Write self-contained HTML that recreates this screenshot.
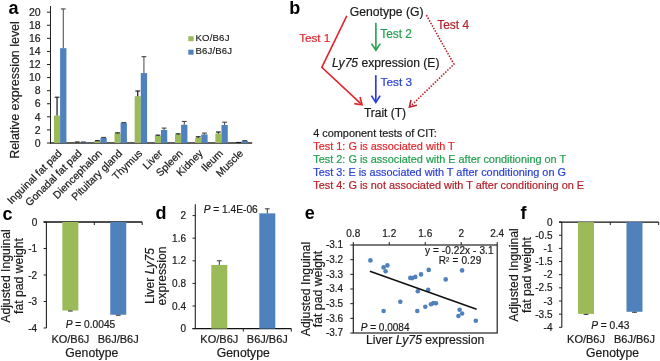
<!DOCTYPE html>
<html><head><meta charset="utf-8"><style>
html,body{margin:0;padding:0;background:#fff;width:660px;height:361px;overflow:hidden}
svg{display:block;filter:blur(0.3px);font-family:"Liberation Sans",sans-serif}
</style></head><body>
<svg width="660" height="361" viewBox="0 0 660 361">
<rect width="660" height="361" fill="#fff"/>
<text transform="translate(8.4,14.3) " font-size="18" font-weight="bold" fill="#000">a</text>
<line x1="50.50" y1="6.00" x2="50.50" y2="143.50" stroke="#222222" stroke-width="1" />
<line x1="47.00" y1="143.00" x2="50.50" y2="143.00" stroke="#222222" stroke-width="1" />
<text x="40.60" y="146.70" font-size="10.5" text-anchor="end" fill="#1a1a1a" stroke="#1a1a1a" stroke-width="0.2" >0</text>
<line x1="47.00" y1="129.92" x2="50.50" y2="129.92" stroke="#222222" stroke-width="1" />
<text x="40.60" y="133.62" font-size="10.5" text-anchor="end" fill="#1a1a1a" stroke="#1a1a1a" stroke-width="0.2" >2</text>
<line x1="47.00" y1="116.84" x2="50.50" y2="116.84" stroke="#222222" stroke-width="1" />
<text x="40.60" y="120.54" font-size="10.5" text-anchor="end" fill="#1a1a1a" stroke="#1a1a1a" stroke-width="0.2" >4</text>
<line x1="47.00" y1="103.76" x2="50.50" y2="103.76" stroke="#222222" stroke-width="1" />
<text x="40.60" y="107.46" font-size="10.5" text-anchor="end" fill="#1a1a1a" stroke="#1a1a1a" stroke-width="0.2" >6</text>
<line x1="47.00" y1="90.68" x2="50.50" y2="90.68" stroke="#222222" stroke-width="1" />
<text x="40.60" y="94.38" font-size="10.5" text-anchor="end" fill="#1a1a1a" stroke="#1a1a1a" stroke-width="0.2" >8</text>
<line x1="47.00" y1="77.60" x2="50.50" y2="77.60" stroke="#222222" stroke-width="1" />
<text x="40.60" y="81.30" font-size="10.5" text-anchor="end" fill="#1a1a1a" stroke="#1a1a1a" stroke-width="0.2" >10</text>
<line x1="47.00" y1="64.52" x2="50.50" y2="64.52" stroke="#222222" stroke-width="1" />
<text x="40.60" y="68.22" font-size="10.5" text-anchor="end" fill="#1a1a1a" stroke="#1a1a1a" stroke-width="0.2" >12</text>
<line x1="47.00" y1="51.44" x2="50.50" y2="51.44" stroke="#222222" stroke-width="1" />
<text x="40.60" y="55.14" font-size="10.5" text-anchor="end" fill="#1a1a1a" stroke="#1a1a1a" stroke-width="0.2" >14</text>
<line x1="47.00" y1="38.36" x2="50.50" y2="38.36" stroke="#222222" stroke-width="1" />
<text x="40.60" y="42.06" font-size="10.5" text-anchor="end" fill="#1a1a1a" stroke="#1a1a1a" stroke-width="0.2" >16</text>
<line x1="47.00" y1="25.28" x2="50.50" y2="25.28" stroke="#222222" stroke-width="1" />
<text x="40.60" y="28.98" font-size="10.5" text-anchor="end" fill="#1a1a1a" stroke="#1a1a1a" stroke-width="0.2" >18</text>
<line x1="47.00" y1="12.20" x2="50.50" y2="12.20" stroke="#222222" stroke-width="1" />
<text x="40.60" y="15.90" font-size="10.5" text-anchor="end" fill="#1a1a1a" stroke="#1a1a1a" stroke-width="0.2" >20</text>
<line x1="50.00" y1="143.00" x2="252.20" y2="143.00" stroke="#2a2a2a" stroke-width="1.5" />
<text transform="translate(19.30,90.00) rotate(-90)" font-size="12.45" text-anchor="middle" fill="#1a1a1a" stroke="#1a1a1a" stroke-width="0.2">Relative expression level</text>
<rect x="54.00" y="115.53" width="6.10" height="27.47" fill="#9bbb59"/>
<rect x="60.10" y="48.17" width="6.30" height="94.83" fill="#4f81bd"/>
<line x1="57.05" y1="115.53" x2="57.05" y2="97.22" stroke="#111" stroke-width="1.2" />
<line x1="54.65" y1="97.22" x2="59.45" y2="97.22" stroke="#111" stroke-width="1.1" />
<line x1="63.25" y1="48.17" x2="63.25" y2="8.93" stroke="#444" stroke-width="1.0" />
<line x1="60.85" y1="8.93" x2="65.65" y2="8.93" stroke="#444" stroke-width="1.1" />
<text transform="translate(62.30,154.00) rotate(-45)" font-size="10.5" text-anchor="end" fill="#1a1a1a" stroke="#1a1a1a" stroke-width="0.2">Inguinal fat pad</text>
<rect x="74.17" y="142.35" width="6.10" height="0.65" fill="#9bbb59"/>
<rect x="80.27" y="142.35" width="6.30" height="0.65" fill="#4f81bd"/>
<line x1="77.22" y1="142.35" x2="77.22" y2="142.02" stroke="#111" stroke-width="1.2" />
<line x1="74.82" y1="142.02" x2="79.62" y2="142.02" stroke="#111" stroke-width="1.1" />
<line x1="83.42" y1="142.35" x2="83.42" y2="142.02" stroke="#444" stroke-width="1.0" />
<line x1="81.02" y1="142.02" x2="85.82" y2="142.02" stroke="#444" stroke-width="1.1" />
<text transform="translate(82.47,154.00) rotate(-45)" font-size="10.5" text-anchor="end" fill="#1a1a1a" stroke="#1a1a1a" stroke-width="0.2">Gonadal fat pad</text>
<rect x="94.34" y="141.04" width="6.10" height="1.96" fill="#9bbb59"/>
<rect x="100.44" y="137.90" width="6.30" height="5.10" fill="#4f81bd"/>
<line x1="97.39" y1="141.04" x2="97.39" y2="140.71" stroke="#111" stroke-width="1.2" />
<line x1="94.99" y1="140.71" x2="99.79" y2="140.71" stroke="#111" stroke-width="1.1" />
<line x1="103.59" y1="137.90" x2="103.59" y2="137.44" stroke="#444" stroke-width="1.0" />
<line x1="101.19" y1="137.44" x2="105.99" y2="137.44" stroke="#444" stroke-width="1.1" />
<text transform="translate(102.64,154.00) rotate(-45)" font-size="10.5" text-anchor="end" fill="#1a1a1a" stroke="#1a1a1a" stroke-width="0.2">Diencephalon</text>
<rect x="114.51" y="133.19" width="6.10" height="9.81" fill="#9bbb59"/>
<rect x="120.61" y="122.92" width="6.30" height="20.08" fill="#4f81bd"/>
<line x1="117.56" y1="133.19" x2="117.56" y2="132.86" stroke="#111" stroke-width="1.2" />
<line x1="115.16" y1="132.86" x2="119.96" y2="132.86" stroke="#111" stroke-width="1.1" />
<line x1="123.76" y1="122.92" x2="123.76" y2="122.60" stroke="#444" stroke-width="1.0" />
<line x1="121.36" y1="122.60" x2="126.16" y2="122.60" stroke="#444" stroke-width="1.1" />
<text transform="translate(122.81,154.00) rotate(-45)" font-size="10.5" text-anchor="end" fill="#1a1a1a" stroke="#1a1a1a" stroke-width="0.2">Pituitary gland</text>
<rect x="134.68" y="96.17" width="6.10" height="46.83" fill="#9bbb59"/>
<rect x="140.78" y="73.09" width="6.30" height="69.91" fill="#4f81bd"/>
<line x1="137.73" y1="96.17" x2="137.73" y2="91.01" stroke="#111" stroke-width="1.2" />
<line x1="135.33" y1="91.01" x2="140.13" y2="91.01" stroke="#111" stroke-width="1.1" />
<line x1="143.93" y1="73.09" x2="143.93" y2="56.67" stroke="#444" stroke-width="1.0" />
<line x1="141.53" y1="56.67" x2="146.33" y2="56.67" stroke="#444" stroke-width="1.1" />
<text transform="translate(142.98,154.00) rotate(-45)" font-size="10.5" text-anchor="end" fill="#1a1a1a" stroke="#1a1a1a" stroke-width="0.2">Thymus</text>
<rect x="154.85" y="135.87" width="6.10" height="7.13" fill="#9bbb59"/>
<rect x="160.95" y="129.99" width="6.30" height="13.01" fill="#4f81bd"/>
<line x1="157.90" y1="135.87" x2="157.90" y2="135.15" stroke="#111" stroke-width="1.2" />
<line x1="155.50" y1="135.15" x2="160.30" y2="135.15" stroke="#111" stroke-width="1.1" />
<line x1="164.10" y1="129.99" x2="164.10" y2="128.09" stroke="#444" stroke-width="1.0" />
<line x1="161.70" y1="128.09" x2="166.50" y2="128.09" stroke="#444" stroke-width="1.1" />
<text transform="translate(163.15,154.00) rotate(-45)" font-size="10.5" text-anchor="end" fill="#1a1a1a" stroke="#1a1a1a" stroke-width="0.2">Liver</text>
<rect x="175.02" y="134.43" width="6.10" height="8.57" fill="#9bbb59"/>
<rect x="181.12" y="124.75" width="6.30" height="18.25" fill="#4f81bd"/>
<line x1="178.07" y1="134.43" x2="178.07" y2="133.84" stroke="#111" stroke-width="1.2" />
<line x1="175.67" y1="133.84" x2="180.47" y2="133.84" stroke="#111" stroke-width="1.1" />
<line x1="184.27" y1="124.75" x2="184.27" y2="121.48" stroke="#444" stroke-width="1.0" />
<line x1="181.87" y1="121.48" x2="186.67" y2="121.48" stroke="#444" stroke-width="1.1" />
<text transform="translate(183.32,154.00) rotate(-45)" font-size="10.5" text-anchor="end" fill="#1a1a1a" stroke="#1a1a1a" stroke-width="0.2">Spleen</text>
<rect x="195.19" y="137.70" width="6.10" height="5.30" fill="#9bbb59"/>
<rect x="201.29" y="134.43" width="6.30" height="8.57" fill="#4f81bd"/>
<line x1="198.24" y1="137.70" x2="198.24" y2="136.79" stroke="#111" stroke-width="1.2" />
<line x1="195.84" y1="136.79" x2="200.64" y2="136.79" stroke="#111" stroke-width="1.1" />
<line x1="204.44" y1="134.43" x2="204.44" y2="133.12" stroke="#444" stroke-width="1.0" />
<line x1="202.04" y1="133.12" x2="206.84" y2="133.12" stroke="#444" stroke-width="1.1" />
<text transform="translate(203.49,154.00) rotate(-45)" font-size="10.5" text-anchor="end" fill="#1a1a1a" stroke="#1a1a1a" stroke-width="0.2">Kidney</text>
<rect x="215.36" y="133.52" width="6.10" height="9.48" fill="#9bbb59"/>
<rect x="221.46" y="125.02" width="6.30" height="17.98" fill="#4f81bd"/>
<line x1="218.41" y1="133.52" x2="218.41" y2="132.01" stroke="#111" stroke-width="1.2" />
<line x1="216.01" y1="132.01" x2="220.81" y2="132.01" stroke="#111" stroke-width="1.1" />
<line x1="224.61" y1="125.02" x2="224.61" y2="122.20" stroke="#444" stroke-width="1.0" />
<line x1="222.21" y1="122.20" x2="227.01" y2="122.20" stroke="#444" stroke-width="1.1" />
<text transform="translate(223.66,154.00) rotate(-45)" font-size="10.5" text-anchor="end" fill="#1a1a1a" stroke="#1a1a1a" stroke-width="0.2">Ileum</text>
<rect x="235.53" y="142.67" width="6.10" height="0.33" fill="#9bbb59"/>
<rect x="241.63" y="140.91" width="6.30" height="2.09" fill="#4f81bd"/>
<line x1="238.58" y1="142.67" x2="238.58" y2="142.48" stroke="#111" stroke-width="1.2" />
<line x1="236.18" y1="142.48" x2="240.98" y2="142.48" stroke="#111" stroke-width="1.1" />
<line x1="244.78" y1="140.91" x2="244.78" y2="140.65" stroke="#444" stroke-width="1.0" />
<line x1="242.38" y1="140.65" x2="247.18" y2="140.65" stroke="#444" stroke-width="1.1" />
<text transform="translate(243.83,154.00) rotate(-45)" font-size="10.5" text-anchor="end" fill="#1a1a1a" stroke="#1a1a1a" stroke-width="0.2">Muscle</text>
<rect x="188.30" y="36.20" width="5.30" height="5.00" fill="#9bbb59"/>
<text x="195.40" y="41.00" font-size="9.6" text-anchor="start" fill="#1a1a1a" stroke="#1a1a1a" stroke-width="0.15" letter-spacing="0.2">KO/B6J</text>
<rect x="188.30" y="49.70" width="5.30" height="5.00" fill="#4f81bd"/>
<text x="195.60" y="54.20" font-size="9.6" text-anchor="start" fill="#1a1a1a" stroke="#1a1a1a" stroke-width="0.15" letter-spacing="0.1">B6J/B6J</text>
<text transform="translate(289.3,14.2) " font-size="18" font-weight="bold" fill="#000">b</text>
<text x="349.80" y="15.60" font-size="12.2" text-anchor="start" fill="#1a1a1a" stroke="#1a1a1a" stroke-width="0.2" >Genotype (G)</text>
<polyline points="346.8,15.9 321.8,67.3 361.6,104.3" fill="none" stroke="#e3262d" stroke-width="1.6"/>
<polyline points="354.3,103.6 362.1,104.7 360.0,97.0" fill="none" stroke="#e3262d" stroke-width="1.6"/>
<text x="299.20" y="41.70" font-size="11.7" text-anchor="start" fill="#e3262d" stroke="#e3262d" stroke-width="0.2" >Test 1</text>
<line x1="375.90" y1="22.70" x2="375.90" y2="50.00" stroke="#23a04f" stroke-width="1.6" />
<polyline points="371.5,43.6 375.9,50.3 380.3,43.6" fill="none" stroke="#23a04f" stroke-width="1.6"/>
<text x="380.20" y="37.90" font-size="11.9" text-anchor="start" fill="#23a04f" stroke="#23a04f" stroke-width="0.2" >Test 2</text>
<text x="332.10" y="66.50" font-size="12.1" text-anchor="start" fill="#1a1a1a" stroke="#1a1a1a" stroke-width="0.2" ><tspan font-style="italic">Ly75</tspan> expression (E)</text>
<line x1="375.80" y1="75.20" x2="375.80" y2="102.20" stroke="#2b3fd6" stroke-width="1.7" />
<polyline points="371.4,95.6 375.8,102.4 380.2,95.6" fill="none" stroke="#2b3fd6" stroke-width="1.7"/>
<text x="380.60" y="86.20" font-size="11.8" text-anchor="start" fill="#2b3fd6" stroke="#2b3fd6" stroke-width="0.2" >Test 3</text>
<text x="363.90" y="117.10" font-size="12.0" text-anchor="start" fill="#1a1a1a" stroke="#1a1a1a" stroke-width="0.2" >Trait (T)</text>
<polyline points="426.4,15.2 453.9,64.2 409.4,107.3" fill="none" stroke="#b5202a" stroke-width="1.6" stroke-dasharray="1.5 1.4"/>
<polyline points="410.9,99.8 409.4,107.0 416.9,105.2" fill="none" stroke="#b5202a" stroke-width="1.5"/>
<text x="437.30" y="28.50" font-size="11.9" text-anchor="start" fill="#b5202a" stroke="#b5202a" stroke-width="0.2" >Test 4</text>
<text x="313.20" y="136.50" font-size="10.9" text-anchor="start" fill="#1a1a1a" stroke="#1a1a1a" stroke-width="0.2" >4 component tests of CIT:</text>
<text x="313.30" y="149.60" font-size="10.9" text-anchor="start" fill="#e3262d" stroke="#e3262d" stroke-width="0.2" >Test 1: G is associated with T</text>
<text x="313.30" y="162.50" font-size="10.9" text-anchor="start" fill="#23a04f" stroke="#23a04f" stroke-width="0.2" >Test 2: G is associated with E after conditioning on T</text>
<text x="313.30" y="175.70" font-size="10.9" text-anchor="start" fill="#2b3fd6" stroke="#2b3fd6" stroke-width="0.2" >Test 3: E is associated with T after conditioning on G</text>
<text x="313.30" y="188.80" font-size="10.9" text-anchor="start" fill="#b5202a" stroke="#b5202a" stroke-width="0.2" >Test 4: G is not associated with T after conditioning on E</text>
<text transform="translate(2.5,219.6) " font-size="18" font-weight="bold" fill="#000">c</text>
<line x1="46.40" y1="222.00" x2="46.40" y2="328.10" stroke="#222222" stroke-width="1.1" />
<line x1="43.60" y1="222.00" x2="142.20" y2="222.00" stroke="#111" stroke-width="1.4" />
<line x1="43.60" y1="222.00" x2="46.40" y2="222.00" stroke="#222222" stroke-width="1" />
<text x="37.20" y="225.60" font-size="10" text-anchor="end" fill="#1a1a1a" stroke="#1a1a1a" stroke-width="0.2" >0</text>
<line x1="43.60" y1="248.50" x2="46.40" y2="248.50" stroke="#222222" stroke-width="1" />
<text x="37.20" y="252.10" font-size="10" text-anchor="end" fill="#1a1a1a" stroke="#1a1a1a" stroke-width="0.2" >-1</text>
<line x1="43.60" y1="275.00" x2="46.40" y2="275.00" stroke="#222222" stroke-width="1" />
<text x="37.20" y="278.60" font-size="10" text-anchor="end" fill="#1a1a1a" stroke="#1a1a1a" stroke-width="0.2" >-2</text>
<line x1="43.60" y1="301.50" x2="46.40" y2="301.50" stroke="#222222" stroke-width="1" />
<text x="37.20" y="305.10" font-size="10" text-anchor="end" fill="#1a1a1a" stroke="#1a1a1a" stroke-width="0.2" >-3</text>
<line x1="43.60" y1="328.00" x2="46.40" y2="328.00" stroke="#222222" stroke-width="1" />
<text x="37.20" y="331.60" font-size="10" text-anchor="end" fill="#1a1a1a" stroke="#1a1a1a" stroke-width="0.2" >-4</text>
<line x1="94.30" y1="222.00" x2="94.30" y2="225.00" stroke="#222222" stroke-width="1" />
<line x1="142.20" y1="222.00" x2="142.20" y2="225.00" stroke="#222222" stroke-width="1" />
<rect x="62.35" y="222.00" width="16.00" height="88.51" fill="#9bbb59"/>
<line x1="70.35" y1="310.51" x2="70.35" y2="311.04" stroke="#222" stroke-width="0.9" />
<line x1="67.95" y1="311.04" x2="72.75" y2="311.04" stroke="#222" stroke-width="0.9" />
<rect x="110.25" y="222.00" width="16.00" height="92.75" fill="#4f81bd"/>
<line x1="118.25" y1="314.75" x2="118.25" y2="315.28" stroke="#222" stroke-width="0.9" />
<line x1="115.85" y1="315.28" x2="120.65" y2="315.28" stroke="#222" stroke-width="0.9" />
<text x="65.70" y="327.90" font-size="10.2" text-anchor="start" fill="#1a1a1a" stroke="#1a1a1a" stroke-width="0.2" letter-spacing="0.0"><tspan font-style="italic">P</tspan> = 0.0045</text>
<text x="70.35" y="342.90" font-size="11" text-anchor="middle" fill="#1a1a1a" stroke="#1a1a1a" stroke-width="0.2" >KO/B6J</text>
<text x="118.25" y="342.90" font-size="11" text-anchor="middle" fill="#1a1a1a" stroke="#1a1a1a" stroke-width="0.2" >B6J/B6J</text>
<text x="91.80" y="356.60" font-size="12.2" text-anchor="middle" fill="#1a1a1a" stroke="#1a1a1a" stroke-width="0.2" >Genotype</text>
<text transform="translate(10.30,276.00) rotate(-90)" font-size="12.2" text-anchor="middle" fill="#1a1a1a" stroke="#1a1a1a" stroke-width="0.2">Adjusted Inguinal</text>
<text transform="translate(22.60,276.00) rotate(-90)" font-size="12.2" text-anchor="middle" fill="#1a1a1a" stroke="#1a1a1a" stroke-width="0.2">fat pad weight</text>
<text transform="translate(155.5,219.0) " font-size="18" font-weight="bold" fill="#000">d</text>
<line x1="195.30" y1="204.20" x2="195.30" y2="328.60" stroke="#222222" stroke-width="1.1" />
<line x1="192.50" y1="328.60" x2="291.30" y2="328.60" stroke="#111" stroke-width="1.4" />
<line x1="192.50" y1="328.60" x2="195.30" y2="328.60" stroke="#222222" stroke-width="1" />
<text x="186.00" y="332.20" font-size="10" text-anchor="end" fill="#1a1a1a" stroke="#1a1a1a" stroke-width="0.2" >0</text>
<line x1="192.50" y1="306.00" x2="195.30" y2="306.00" stroke="#222222" stroke-width="1" />
<text x="186.00" y="309.60" font-size="10" text-anchor="end" fill="#1a1a1a" stroke="#1a1a1a" stroke-width="0.2" >0.4</text>
<line x1="192.50" y1="283.40" x2="195.30" y2="283.40" stroke="#222222" stroke-width="1" />
<text x="186.00" y="287.00" font-size="10" text-anchor="end" fill="#1a1a1a" stroke="#1a1a1a" stroke-width="0.2" >0.8</text>
<line x1="192.50" y1="260.80" x2="195.30" y2="260.80" stroke="#222222" stroke-width="1" />
<text x="186.00" y="264.40" font-size="10" text-anchor="end" fill="#1a1a1a" stroke="#1a1a1a" stroke-width="0.2" >1.2</text>
<line x1="192.50" y1="238.20" x2="195.30" y2="238.20" stroke="#222222" stroke-width="1" />
<text x="186.00" y="241.80" font-size="10" text-anchor="end" fill="#1a1a1a" stroke="#1a1a1a" stroke-width="0.2" >1.6</text>
<line x1="192.50" y1="215.60" x2="195.30" y2="215.60" stroke="#222222" stroke-width="1" />
<text x="186.00" y="219.20" font-size="10" text-anchor="end" fill="#1a1a1a" stroke="#1a1a1a" stroke-width="0.2" >2</text>
<line x1="243.30" y1="328.60" x2="243.30" y2="331.60" stroke="#222222" stroke-width="1" />
<line x1="291.30" y1="328.60" x2="291.30" y2="331.60" stroke="#222222" stroke-width="1" />
<rect x="211.30" y="264.98" width="16.00" height="63.62" fill="#9bbb59"/>
<line x1="219.30" y1="264.98" x2="219.30" y2="260.80" stroke="#222" stroke-width="0.9" />
<line x1="216.90" y1="260.80" x2="221.70" y2="260.80" stroke="#222" stroke-width="0.9" />
<rect x="259.30" y="213.34" width="16.00" height="115.26" fill="#4f81bd"/>
<line x1="267.30" y1="213.34" x2="267.30" y2="208.82" stroke="#222" stroke-width="0.9" />
<line x1="264.90" y1="208.82" x2="269.70" y2="208.82" stroke="#222" stroke-width="0.9" />
<text x="203.70" y="213.30" font-size="10.2" text-anchor="start" fill="#1a1a1a" stroke="#1a1a1a" stroke-width="0.2" letter-spacing="0.0"><tspan font-style="italic">P</tspan> = 1.4E-06</text>
<text x="219.30" y="342.90" font-size="11" text-anchor="middle" fill="#1a1a1a" stroke="#1a1a1a" stroke-width="0.2" >KO/B6J</text>
<text x="267.30" y="342.90" font-size="11" text-anchor="middle" fill="#1a1a1a" stroke="#1a1a1a" stroke-width="0.2" >B6J/B6J</text>
<text x="243.30" y="356.60" font-size="12.2" text-anchor="middle" fill="#1a1a1a" stroke="#1a1a1a" stroke-width="0.2" >Genotype</text>
<text transform="translate(154.00,276.00) rotate(-90)" font-size="12.2" text-anchor="middle" fill="#1a1a1a" stroke="#1a1a1a" stroke-width="0.2">Liver <tspan font-style="italic">Ly75</tspan></text>
<text transform="translate(166.30,276.00) rotate(-90)" font-size="12.2" text-anchor="middle" fill="#1a1a1a" stroke="#1a1a1a" stroke-width="0.2">expression</text>
<text transform="translate(520.5,218.6) " font-size="18" font-weight="bold" fill="#000">f</text>
<line x1="561.80" y1="222.10" x2="561.80" y2="327.50" stroke="#222222" stroke-width="1.1" />
<line x1="559.00" y1="222.10" x2="658.70" y2="222.10" stroke="#111" stroke-width="1.4" />
<line x1="559.00" y1="222.10" x2="561.80" y2="222.10" stroke="#222222" stroke-width="1" />
<text x="552.50" y="225.70" font-size="10" text-anchor="end" fill="#1a1a1a" stroke="#1a1a1a" stroke-width="0.2" >0</text>
<line x1="559.00" y1="235.25" x2="561.80" y2="235.25" stroke="#222222" stroke-width="1" />
<text x="552.50" y="238.85" font-size="10" text-anchor="end" fill="#1a1a1a" stroke="#1a1a1a" stroke-width="0.2" >-0.5</text>
<line x1="559.00" y1="248.40" x2="561.80" y2="248.40" stroke="#222222" stroke-width="1" />
<text x="552.50" y="252.00" font-size="10" text-anchor="end" fill="#1a1a1a" stroke="#1a1a1a" stroke-width="0.2" >-1</text>
<line x1="559.00" y1="261.55" x2="561.80" y2="261.55" stroke="#222222" stroke-width="1" />
<text x="552.50" y="265.15" font-size="10" text-anchor="end" fill="#1a1a1a" stroke="#1a1a1a" stroke-width="0.2" >-1.5</text>
<line x1="559.00" y1="274.70" x2="561.80" y2="274.70" stroke="#222222" stroke-width="1" />
<text x="552.50" y="278.30" font-size="10" text-anchor="end" fill="#1a1a1a" stroke="#1a1a1a" stroke-width="0.2" >-2</text>
<line x1="559.00" y1="287.85" x2="561.80" y2="287.85" stroke="#222222" stroke-width="1" />
<text x="552.50" y="291.45" font-size="10" text-anchor="end" fill="#1a1a1a" stroke="#1a1a1a" stroke-width="0.2" >-2.5</text>
<line x1="559.00" y1="301.00" x2="561.80" y2="301.00" stroke="#222222" stroke-width="1" />
<text x="552.50" y="304.60" font-size="10" text-anchor="end" fill="#1a1a1a" stroke="#1a1a1a" stroke-width="0.2" >-3</text>
<line x1="559.00" y1="314.15" x2="561.80" y2="314.15" stroke="#222222" stroke-width="1" />
<text x="552.50" y="317.75" font-size="10" text-anchor="end" fill="#1a1a1a" stroke="#1a1a1a" stroke-width="0.2" >-3.5</text>
<line x1="559.00" y1="327.30" x2="561.80" y2="327.30" stroke="#222222" stroke-width="1" />
<text x="552.50" y="330.90" font-size="10" text-anchor="end" fill="#1a1a1a" stroke="#1a1a1a" stroke-width="0.2" >-4</text>
<line x1="610.25" y1="222.10" x2="610.25" y2="225.10" stroke="#222222" stroke-width="1" />
<line x1="658.70" y1="222.10" x2="658.70" y2="225.10" stroke="#222222" stroke-width="1" />
<rect x="578.02" y="222.10" width="16.00" height="91.79" fill="#9bbb59"/>
<line x1="586.02" y1="313.89" x2="586.02" y2="314.41" stroke="#222" stroke-width="0.9" />
<line x1="583.62" y1="314.41" x2="588.42" y2="314.41" stroke="#222" stroke-width="0.9" />
<rect x="626.48" y="222.10" width="16.00" height="89.68" fill="#4f81bd"/>
<line x1="634.48" y1="311.78" x2="634.48" y2="312.31" stroke="#222" stroke-width="0.9" />
<line x1="632.08" y1="312.31" x2="636.88" y2="312.31" stroke="#222" stroke-width="0.9" />
<text x="591.20" y="328.50" font-size="10.2" text-anchor="start" fill="#1a1a1a" stroke="#1a1a1a" stroke-width="0.2" letter-spacing="0.0"><tspan font-style="italic">P</tspan> = 0.43</text>
<text x="586.02" y="342.90" font-size="11" text-anchor="middle" fill="#1a1a1a" stroke="#1a1a1a" stroke-width="0.2" >KO/B6J</text>
<text x="634.48" y="342.90" font-size="11" text-anchor="middle" fill="#1a1a1a" stroke="#1a1a1a" stroke-width="0.2" >B6J/B6J</text>
<text x="612.55" y="356.60" font-size="12.2" text-anchor="middle" fill="#1a1a1a" stroke="#1a1a1a" stroke-width="0.2" >Genotype</text>
<text transform="translate(518.30,275.00) rotate(-90)" font-size="12.2" text-anchor="middle" fill="#1a1a1a" stroke="#1a1a1a" stroke-width="0.2">Adjusted Inguinal</text>
<text transform="translate(530.60,275.00) rotate(-90)" font-size="12.2" text-anchor="middle" fill="#1a1a1a" stroke="#1a1a1a" stroke-width="0.2">fat pad weight</text>
<text transform="translate(304.8,219.3) " font-size="18" font-weight="bold" fill="#000">e</text>
<rect x="353.3" y="245.0" width="143.90" height="88.00" fill="none" stroke="#222222" stroke-width="1.2"/>
<line x1="353.30" y1="245.00" x2="353.30" y2="242.00" stroke="#222222" stroke-width="1" />
<text x="353.30" y="236.50" font-size="10" text-anchor="middle" fill="#1a1a1a" stroke="#1a1a1a" stroke-width="0.2" >0.8</text>
<line x1="389.27" y1="245.00" x2="389.27" y2="242.00" stroke="#222222" stroke-width="1" />
<text x="389.27" y="236.50" font-size="10" text-anchor="middle" fill="#1a1a1a" stroke="#1a1a1a" stroke-width="0.2" >1.2</text>
<line x1="425.25" y1="245.00" x2="425.25" y2="242.00" stroke="#222222" stroke-width="1" />
<text x="425.25" y="236.50" font-size="10" text-anchor="middle" fill="#1a1a1a" stroke="#1a1a1a" stroke-width="0.2" >1.6</text>
<line x1="461.23" y1="245.00" x2="461.23" y2="242.00" stroke="#222222" stroke-width="1" />
<text x="461.23" y="236.50" font-size="10" text-anchor="middle" fill="#1a1a1a" stroke="#1a1a1a" stroke-width="0.2" >2</text>
<line x1="497.20" y1="245.00" x2="497.20" y2="242.00" stroke="#222222" stroke-width="1" />
<text x="497.20" y="236.50" font-size="10" text-anchor="middle" fill="#1a1a1a" stroke="#1a1a1a" stroke-width="0.2" >2.4</text>
<line x1="350.30" y1="245.00" x2="353.30" y2="245.00" stroke="#222222" stroke-width="1" />
<text x="343.20" y="248.20" font-size="10" text-anchor="end" fill="#1a1a1a" stroke="#1a1a1a" stroke-width="0.2" >-3.1</text>
<line x1="350.30" y1="259.67" x2="353.30" y2="259.67" stroke="#222222" stroke-width="1" />
<text x="343.20" y="262.87" font-size="10" text-anchor="end" fill="#1a1a1a" stroke="#1a1a1a" stroke-width="0.2" >-3.2</text>
<line x1="350.30" y1="274.33" x2="353.30" y2="274.33" stroke="#222222" stroke-width="1" />
<text x="343.20" y="277.53" font-size="10" text-anchor="end" fill="#1a1a1a" stroke="#1a1a1a" stroke-width="0.2" >-3.3</text>
<line x1="350.30" y1="289.00" x2="353.30" y2="289.00" stroke="#222222" stroke-width="1" />
<text x="343.20" y="292.20" font-size="10" text-anchor="end" fill="#1a1a1a" stroke="#1a1a1a" stroke-width="0.2" >-3.4</text>
<line x1="350.30" y1="303.67" x2="353.30" y2="303.67" stroke="#222222" stroke-width="1" />
<text x="343.20" y="306.87" font-size="10" text-anchor="end" fill="#1a1a1a" stroke="#1a1a1a" stroke-width="0.2" >-3.5</text>
<line x1="350.30" y1="318.33" x2="353.30" y2="318.33" stroke="#222222" stroke-width="1" />
<text x="343.20" y="321.53" font-size="10" text-anchor="end" fill="#1a1a1a" stroke="#1a1a1a" stroke-width="0.2" >-3.6</text>
<line x1="350.30" y1="333.00" x2="353.30" y2="333.00" stroke="#222222" stroke-width="1" />
<text x="343.20" y="336.20" font-size="10" text-anchor="end" fill="#1a1a1a" stroke="#1a1a1a" stroke-width="0.2" >-3.7</text>
<circle cx="370.4" cy="260.4" r="2.3" fill="#4f81bd"/>
<circle cx="383.6" cy="267.4" r="2.3" fill="#4f81bd"/>
<circle cx="387.4" cy="265.4" r="2.3" fill="#4f81bd"/>
<circle cx="385.6" cy="271.2" r="2.3" fill="#4f81bd"/>
<circle cx="428.7" cy="269.9" r="2.3" fill="#4f81bd"/>
<circle cx="462.1" cy="270.4" r="2.3" fill="#4f81bd"/>
<circle cx="421" cy="274.4" r="2.3" fill="#4f81bd"/>
<circle cx="415.3" cy="276.9" r="2.3" fill="#4f81bd"/>
<circle cx="412.3" cy="278.1" r="2.3" fill="#4f81bd"/>
<circle cx="410.3" cy="277.9" r="2.3" fill="#4f81bd"/>
<circle cx="445.7" cy="279.4" r="2.3" fill="#4f81bd"/>
<circle cx="417.8" cy="291.3" r="2.3" fill="#4f81bd"/>
<circle cx="428.2" cy="289.9" r="2.3" fill="#4f81bd"/>
<circle cx="400.3" cy="301.8" r="2.3" fill="#4f81bd"/>
<circle cx="431" cy="304.3" r="2.3" fill="#4f81bd"/>
<circle cx="433.5" cy="303.1" r="2.3" fill="#4f81bd"/>
<circle cx="436" cy="303.3" r="2.3" fill="#4f81bd"/>
<circle cx="425.3" cy="306.8" r="2.3" fill="#4f81bd"/>
<circle cx="383.6" cy="311" r="2.3" fill="#4f81bd"/>
<circle cx="417.3" cy="311" r="2.3" fill="#4f81bd"/>
<circle cx="459.6" cy="309.8" r="2.3" fill="#4f81bd"/>
<circle cx="462.1" cy="313.5" r="2.3" fill="#4f81bd"/>
<circle cx="458.4" cy="316" r="2.3" fill="#4f81bd"/>
<circle cx="475.8" cy="320.8" r="2.3" fill="#4f81bd"/>
<line x1="369.90" y1="271.20" x2="476.60" y2="309.30" stroke="#111" stroke-width="1.5" />
<text x="425.00" y="253.80" font-size="10.0" text-anchor="start" fill="#1a1a1a" stroke="#1a1a1a" stroke-width="0.2" letter-spacing="0.1">y = -0.22x - 3.1</text>
<text x="438.70" y="264.30" font-size="10.0" text-anchor="start" fill="#1a1a1a" stroke="#1a1a1a" stroke-width="0.2" letter-spacing="0.15">R² = 0.29</text>
<text x="360.80" y="331.00" font-size="10.0" text-anchor="start" fill="#1a1a1a" stroke="#1a1a1a" stroke-width="0.2" letter-spacing="0.0"><tspan font-style="italic">P</tspan> = 0.0084</text>
<text x="365.90" y="344.30" font-size="12.2" text-anchor="start" fill="#1a1a1a" stroke="#1a1a1a" stroke-width="0.2" >Liver <tspan font-style="italic">Ly75</tspan> expression</text>
<text transform="translate(309.60,289.00) rotate(-90)" font-size="12.3" text-anchor="middle" fill="#1a1a1a" stroke="#1a1a1a" stroke-width="0.2">Adjusted Inguinal</text>
<text transform="translate(322.20,289.00) rotate(-90)" font-size="12.3" text-anchor="middle" fill="#1a1a1a" stroke="#1a1a1a" stroke-width="0.2">fat pad weight</text>
</svg>
</body></html>
